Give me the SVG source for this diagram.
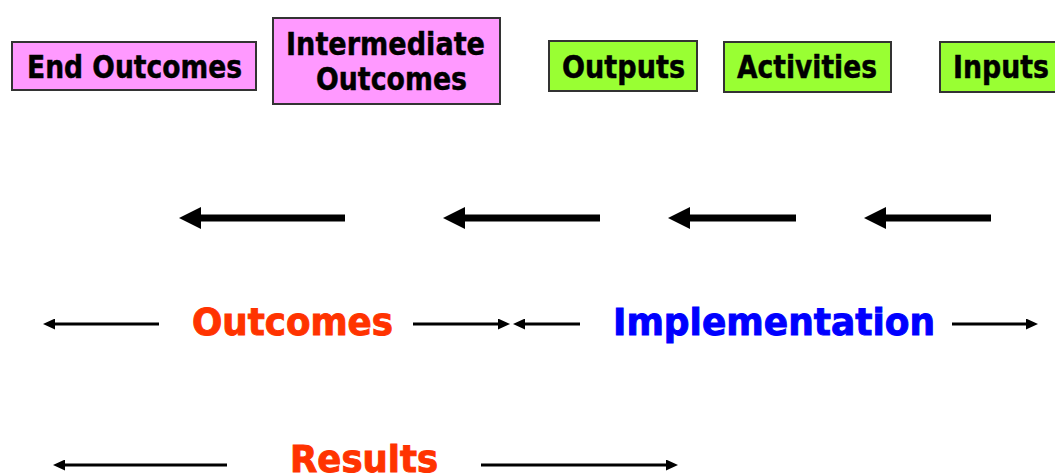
<svg xmlns="http://www.w3.org/2000/svg" width="1055" height="475" viewBox="0 0 1055 475">
  <style>
    .box { stroke: #333333; stroke-width: 2; }
    .pink { fill: #ff99ff; }
    .green { fill: #99ff33; }
    .lbl { font-family: "DejaVu Sans", Verdana, sans-serif; font-weight: bold; font-size: 32px; fill: #000000; stroke: #000000; stroke-width: 0.5; }
    .big { font-family: "DejaVu Sans", Verdana, sans-serif; font-weight: bold; font-size: 38px; stroke-width: 1; }
    .thick { stroke: #000000; stroke-width: 7; marker-end: url(#headBig); }
    .thin { stroke: #000000; stroke-width: 3; marker-end: url(#headSmall); }
  </style>
  <defs>
    <marker id="headBig" viewBox="0 0 22 22" refX="0" refY="11" markerWidth="22" markerHeight="22" markerUnits="userSpaceOnUse" orient="auto">
      <path d="M0,0 L22,11 L0,22 Z" fill="#000000"/>
    </marker>
    <marker id="headSmall" viewBox="0 0 12 11" refX="0" refY="5.5" markerWidth="12" markerHeight="11" markerUnits="userSpaceOnUse" orient="auto">
      <path d="M0,0 L12,5.5 L0,11 Z" fill="#000000"/>
    </marker>
  </defs>
  <rect width="1055" height="475" fill="#ffffff"/>

  <!-- stage boxes -->
  <g id="end-outcomes">
    <rect class="box pink" x="12" y="42" width="244" height="48"/>
    <text class="lbl" x="27" y="78" textLength="215" lengthAdjust="spacingAndGlyphs">End Outcomes</text>
  </g>
  <g id="intermediate-outcomes">
    <rect class="box pink" x="273" y="18" width="227" height="86"/>
    <text class="lbl" x="286" y="55" textLength="199" lengthAdjust="spacingAndGlyphs">Intermediate</text>
    <text class="lbl" x="316" y="90" textLength="151" lengthAdjust="spacingAndGlyphs">Outcomes</text>
  </g>
  <g id="outputs">
    <rect class="box green" x="549" y="41" width="148" height="50"/>
    <text class="lbl" x="562" y="78" textLength="123" lengthAdjust="spacingAndGlyphs">Outputs</text>
  </g>
  <g id="activities">
    <rect class="box green" x="724" y="42" width="167" height="50"/>
    <text class="lbl" x="737" y="78" textLength="140" lengthAdjust="spacingAndGlyphs">Activities</text>
  </g>
  <g id="inputs">
    <rect class="box green" x="940" y="42" width="130" height="50"/>
    <text class="lbl" x="953" y="78" textLength="96" lengthAdjust="spacingAndGlyphs">Inputs</text>
  </g>

  <!-- phase labels -->
  <g id="outcomes-label">
    <text class="big" x="192" y="335" fill="#ff3300" stroke="#ff3300" textLength="201" lengthAdjust="spacingAndGlyphs">Outcomes</text>
  </g>
  <g id="implementation-label">
    <text class="big" x="613" y="335" fill="#0000ff" stroke="#0000ff" textLength="322" lengthAdjust="spacingAndGlyphs">Implementation</text>
  </g>
  <g id="results-label">
    <text class="big" x="290" y="472" fill="#ff3300" stroke="#ff3300" textLength="148" lengthAdjust="spacingAndGlyphs">Results</text>
  </g>

  <!-- connectors -->
  <g id="connectors">
    <line class="thick" x1="345" y1="218" x2="201" y2="218"/>
    <line class="thick" x1="600" y1="218" x2="465" y2="218"/>
    <line class="thick" x1="796" y1="218" x2="690" y2="218"/>
    <line class="thick" x1="991" y1="218" x2="886" y2="218"/>

    <line class="thin" x1="159" y1="324" x2="55" y2="324"/>
    <line class="thin" x1="413" y1="324" x2="498" y2="324"/>
    <line class="thin" x1="580" y1="324" x2="525" y2="324"/>
    <line class="thin" x1="952" y1="324" x2="1026" y2="324"/>

    <line class="thin" x1="227" y1="465" x2="65" y2="465"/>
    <line class="thin" x1="481" y1="465" x2="666" y2="465"/>
  </g>
</svg>
